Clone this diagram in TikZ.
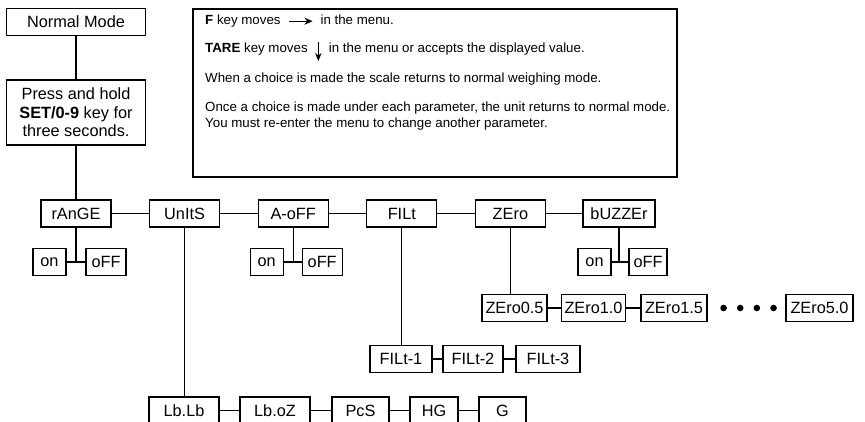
\documentclass[tikz,border=0pt]{standalone}
\usepackage{fontspec}
\setmainfont{Liberation Sans}
\usepackage{tikz}
\usetikzlibrary{arrows.meta}
\newcommand{\boxfont}{\fontsize{16.3}{18.5}\selectfont}
\newcommand{\notefont}{\fontsize{13.3}{16}\selectfont}
\newcommand{\rightkey}{\tikz[baseline=-3.8pt]\draw[line width=1.2pt,-{Stealth[length=8pt,width=7pt]}] (0pt,0pt) -- (24pt,0pt);}
\newcommand{\downkey}{\tikz[baseline=0pt]\draw[line width=1.2pt,-{Stealth[length=8pt,width=6.5pt]}] (0pt,11pt) -- (0pt,-8pt);}
\tikzstyle{menu} = [rectangle, draw = black, line width=1.1pt, minimum width=70pt, minimum height=27pt, inner sep=2pt, font=\boxfont]
\tikzstyle{choice} = [rectangle, draw = black, line width=1.1pt, minimum height=27pt, inner xsep=3pt, font=\boxfont]
\tikzstyle{note} = [anchor=base west, inner sep=0pt, font=\notefont]
\tikzstyle{line} = [draw, line width=1.3pt]

\begin{document}
\begin{tikzpicture}[x=1pt, y=-1pt, node distance = 108.6pt]
    \useasboundingbox (0,0) rectangle (865,422);
    \clip (0,0) rectangle (865,422);

    \node (normal) [menu, minimum width=139pt] at (76,22) {Normal Mode};
    \node (press)  [menu, minimum width=139pt, minimum height=65pt,
                    align=center] at (76,112.5)
                   {Press and hold\\\textbf{SET/0-9} key for\\three seconds.};

    \node (range)  [menu] at (76,213.5)        {rAnGE};
    \node (units)  [menu, right of=range]      {UnItS};
    \node (aoff)   [menu, right of=units]      {A-oFF};
    \node (filt)   [menu, right of=aoff]       {FILt};
    \node (zero)   [menu, right of=filt]       {ZEro};
    \node (buzzer) [menu, right of=zero,
                    minimum width=72pt]        {bUZZEr};

    \node (rangeon)   [choice, minimum width=33pt, below of=range,
                       node distance=48.5pt, xshift=-26.5pt] {on};
    \node (rangeoff)  [choice, minimum width=40pt, below of=range,
                       node distance=48.5pt, xshift=30pt]    {oFF};
    \node (aoffon)    [choice, minimum width=33pt, below of=aoff,
                       node distance=48.5pt, xshift=-26.5pt] {on};
    \node (aoffoff)   [choice, minimum width=40pt, below of=aoff,
                       node distance=48.5pt, xshift=29pt]    {oFF};
    \node (buzzeron)  [choice, minimum width=33pt, below of=buzzer,
                       node distance=48.5pt, xshift=-24.5pt] {on};
    \node (buzzeroff) [choice, minimum width=38pt, below of=buzzer,
                       node distance=48.5pt, xshift=29pt]    {oFF};
    \coordinate (rangej)  at (range |- rangeon);
    \coordinate (aoffj)   at (aoff |- aoffon);
    \coordinate (buzzerj) at (buzzer |- buzzeron);

    \node (zero05) [choice, minimum width=65pt] at (514.5,308) {ZEro0.5};
    \node (zero10) [choice, minimum width=63pt] at (593.5,308) {ZEro1.0};
    \node (zero15) [choice, minimum width=66pt] at (674,308)   {ZEro1.5};
    \node (zero50) [choice, minimum width=67pt] at (819.5,308) {ZEro5.0};

    \node (filt1) [choice, minimum width=62pt] at (401,359) {FILt-1};
    \node (filt2) [choice, minimum width=60pt] at (473,359) {FILt-2};
    \node (filt3) [choice, minimum width=64pt] at (548,359) {FILt-3};

    \node (lblb) [choice, minimum width=70pt] at (184,410.5)   {Lb.Lb};
    \node (lboz) [choice, minimum width=70pt] at (275,410.5)   {Lb.oZ};
    \node (pcs)  [choice, minimum width=57pt] at (360.5,410.5) {PcS};
    \node (hg)   [choice, minimum width=48pt] at (434,410.5)   {HG};
    \node (g)    [choice, minimum width=47pt] at (502.5,410.5) {G};

    \node (info) [rectangle, draw = black, line width=2.6pt,
                  minimum width=484pt, minimum height=168pt] at (435,93) {};
    \node (fnote)    [note] at (205,25)
        {\textbf{F} key moves \ \rightkey\ \ in the menu.};
    \node (tarenote) [note] at (205,53)
        {\textbf{TARE} key moves \ \downkey\ \ in the menu or accepts the displayed value.};
    \node (whennote) [note] at (205,83)
        {When a choice is made the scale returns to normal weighing mode.};
    \node (oncenote) [note] at (205,112)
        {Once a choice is made under each parameter, the unit returns to normal mode.};
    \node (younote)  [note] at (205,128)
        {You must re-enter the menu to change another parameter.};

    \path [line] (normal) -- (press);
    \path [line] (press)  -- (range);
    \path [line] (range)  -- (units);
    \path [line] (units)  -- (aoff);
    \path [line] (aoff)   -- (filt);
    \path [line] (filt)   -- (zero);
    \path [line] (zero)   -- (buzzer);
    \path [line] (range)  -- (rangej);
    \path [line] (rangeon) -- (rangeoff);
    \path [line] (aoff)   -- (aoffj);
    \path [line] (aoffon) -- (aoffoff);
    \path [line] (buzzer) -- (buzzerj);
    \path [line] (buzzeron) -- (buzzeroff);
    \path [line] (zero)   -- (zero |- zero05.north);
    \path [line] (zero05) -- (zero10);
    \path [line] (zero10) -- (zero15);
    \foreach \d in {16,32.7,49.3,66}
      \fill ([xshift=\d pt]zero15.east) circle (3.3pt);
    \path [line] (filt)   -- (filt |- filt1.north);
    \path [line] (filt1)  -- (filt2);
    \path [line] (filt2)  -- (filt3);
    \path [line] (units)  -- (units |- lblb.north);
    \path [line] (lblb)   -- (lboz);
    \path [line] (lboz)   -- (pcs);
    \path [line] (pcs)    -- (hg);
    \path [line] (hg)     -- (g);
  \end{tikzpicture}
\end{document}
